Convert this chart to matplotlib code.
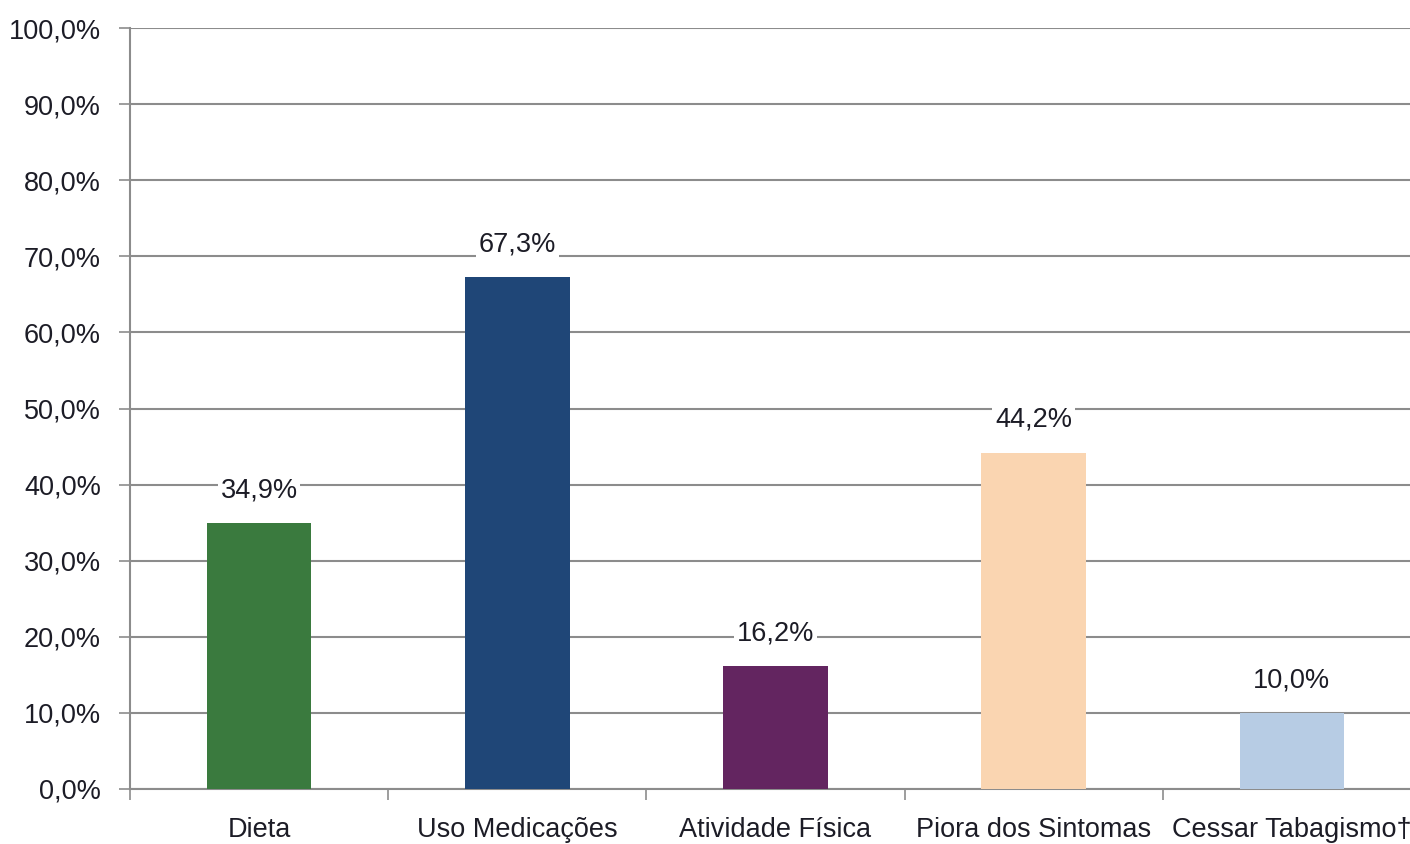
import matplotlib
matplotlib.use("Agg")
import matplotlib.pyplot as plt
from matplotlib.ticker import FixedLocator

categories = ["Dieta", "Uso Medicações", "Atividade Física", "Piora dos Sintomas", "Cessar Tabagismo†"]
values = [34.9, 67.3, 16.2, 44.2, 10.0]
colors = ["#3a7a3e", "#1f4677", "#632560", "#fad5b1", "#b7cce4"]
yticks = [0, 10, 20, 30, 40, 50, 60, 70, 80, 90, 100]

font = ["Liberation Sans Narrow", "Liberation Sans", "DejaVu Sans"]
plt.rcParams["font.family"] = font
text_color = "#1c1c26"
grid_color = "#8c8c8c"
fs = 19.5

fig = plt.figure(figsize=(14.10, 8.44), dpi=100)
ax = fig.add_axes([130 / 1410, 1 - 789 / 844, (1421 - 130) / 1410, (789 - 28) / 844])

x = list(range(len(categories)))
ax.bar(x, values, width=0.405, color=colors, zorder=3)

ax.set_xlim(-0.5, len(categories) - 0.5)
ax.set_ylim(0, 100)

ax.set_yticks(yticks)
ax.set_yticklabels([f"{v:.1f}%".replace(".", ",") for v in yticks])
ax.yaxis.grid(True, color=grid_color, linewidth=1.5, zorder=0)
ax.tick_params(axis="y", length=8, width=1.2, color=grid_color, pad=13,
               labelsize=fs, labelcolor=text_color)

ax.set_xticks(x)
ax.set_xticklabels(categories)
ax.xaxis.set_minor_locator(FixedLocator([i - 0.5 for i in range(len(categories) + 1)]))
ax.tick_params(axis="x", which="major", length=0, pad=20, labelsize=fs, labelcolor=text_color)
ax.tick_params(axis="x", which="minor", length=8, width=1.2, color=grid_color)

for side in ["top", "right"]:
    ax.spines[side].set_visible(False)
for side in ["left", "bottom"]:
    ax.spines[side].set_color(grid_color)
    ax.spines[side].set_linewidth(1.5)

for xi, v in zip(x, values):
    ax.annotate(f"{v:.1f}%".replace(".", ","), (xi, v), xytext=(0, 23.5),
                textcoords="offset points", ha="center", va="center",
                fontsize=fs, color=text_color, zorder=4,
                bbox=dict(boxstyle="square,pad=0.1", fc="white", ec="none"))

fig.savefig("out.png", dpi=100)
